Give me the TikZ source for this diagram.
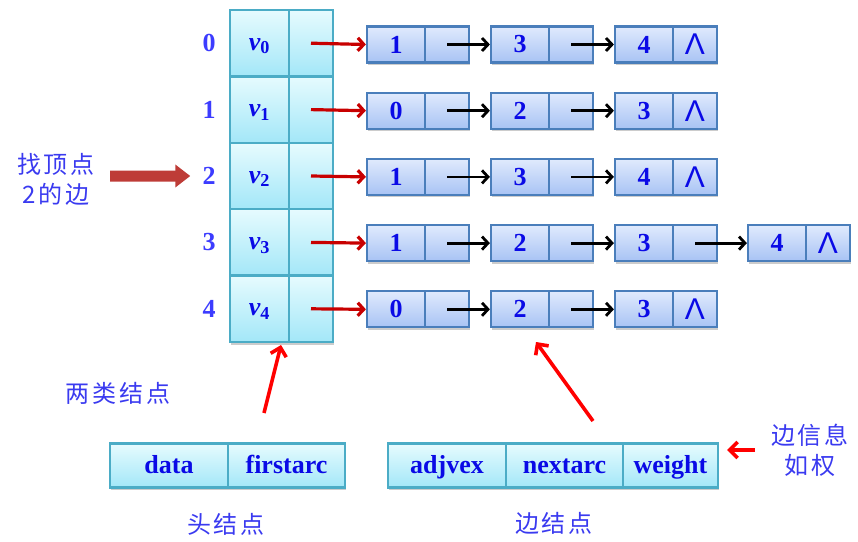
\documentclass[tikz,border=0pt]{standalone}
\usepackage{fontspec}
\setmainfont{Liberation Serif}
\setsansfont{Liberation Sans}
\newfontfamily\cjk{Noto Sans CJK SC}[LetterSpace=12]
\usetikzlibrary{arrows.meta,shadows}

\definecolor{headline}{RGB}{75,172,198}
\definecolor{headtop}{RGB}{230,251,254}
\definecolor{headbot}{RGB}{163,231,248}
\definecolor{edgeline}{RGB}{74,126,187}
\definecolor{edgetop}{RGB}{224,234,253}
\definecolor{edgebot}{RGB}{168,195,244}
\definecolor{boxtext}{RGB}{10,10,230}
\definecolor{idxblue}{RGB}{60,60,255}
\definecolor{cjkblue}{RGB}{58,58,240}
\definecolor{ptrred}{RGB}{200,0,0}
\definecolor{fatred}{RGB}{190,60,55}

\tikzset{
hcell/.style={draw=headline, line width=2.4pt, top color=headtop, bottom color=headbot,
  minimum height=66.4, inner sep=0, text=boxtext,
  font=\bfseries\fontsize{26}{30}\selectfont,
  general shadow={fill=black!20, shadow xshift=1pt, shadow yshift=-2.5pt}},
field/.style={hcell, minimum height=44, text height=18pt, text depth=3pt},
ecell/.style={draw=edgeline, line width=2.2pt, top color=edgetop, bottom color=edgebot,
  minimum height=36, inner sep=0, text=boxtext,
  font=\bfseries\fontsize{26}{30}\selectfont,
  general shadow={fill=black!20, shadow xshift=1pt, shadow yshift=-2.5pt}},
idx/.style={inner sep=2pt, text=idxblue, font=\bfseries\fontsize{26}{30}\selectfont},
nil/.style={inner sep=0, text=boxtext, font=\sffamily\fontsize{30}{32}\selectfont},
note/.style={inner sep=0, text=cjkblue, font=\cjk\fontsize{24}{30}\selectfont},
headarrow/.style={draw=ptrred, line width=3.2pt, -{Straight Barb[length=6pt,width=13pt]}},
nextarrow/.style={draw=black, line width=2.8pt, -{Straight Barb[length=6pt,width=13pt]}},
pointarrow/.style={draw=red, line width=3.6pt, -{Straight Barb[length=8pt,width=16pt]}},
fatarrow/.style={draw=fatred, line width=11pt, -{Triangle[length=15pt,width=22pt]}}
}

\begin{document}
\begin{tikzpicture}[x=1pt,y=1pt,yscale=-1,xscale=1]
    \useasboundingbox (0,0) rectangle (858,541);

    % head array, one row for each vertex
    \foreach \i in {0,...,4}{
        \pgfmathsetmacro\hy{43.2+66.4*\i}
        \node[idx] (i\i) at (209,\hy) {\i};
        \node[hcell, minimum width=59, text height=17pt, text depth=3pt] (d\i) at (259.5,\hy) {{\itshape v}\textsubscript{\i}};
        \node[hcell, minimum width=44] (p\i) at (311,\hy) {};
    }

    % edge lists
    \def\boxx{{367,491,615,748}}
    \foreach \vals [count=\j from 0] in {{1,3,4},{0,2,3},{1,3,4},{1,2,3,4},{0,2,3}}{
        \pgfmathsetmacro\ey{44.5+66.2*\j}
        \foreach \v [count=\k] in \vals{
            \pgfmathsetmacro\bx{\boxx[\k-1]}
            \node[ecell, minimum width=58] (v\j\k) at (\bx+29,\ey) {\v};
            \node[ecell, minimum width=44] (n\j\k) at (\bx+80,\ey) {};
            \ifnum\k>1
                \pgfmathtruncatemacro\prev{\k-1}
                \draw[nextarrow] (n\j\prev.center) -- (v\j\k.west);
            \fi
        }
        \draw[headarrow] (p\j.center) -- (v\j1.west);
    }

    % empty pointers at the end of each list
    \foreach \j/\n in {0/3,1/3,2/3,3/4,4/3}{
        \node[nil] (nil\j) at (n\j\n) {Λ};
    }

    % the two kinds of nodes
    \node[field, minimum width=118] (data) at (169,465.5) {data};
    \node[field, minimum width=117] (firstarc) at (286.5,465.5) {firstarc};
    \node[field, minimum width=118] (adjvex) at (447,465.5) {adjvex};
    \node[field, minimum width=117] (nextarc) at (564.5,465.5) {nextarc};
    \node[field, minimum width=95] (weight) at (670.5,465.5) {weight};

    \node[note] (kinds) at (118,393) {两类结点};
    \node[note] (headname) at (226,524) {头结点};
    \node[note] (edgename) at (554,523) {边结点};
    \node[note, align=center] (info) at (810,450) {边信息\\如权};
    \node[note, align=center] (find) at (56,179) {找顶点\\2的边};

    \coordinate (fatfrom) at (110,176);
    \draw[fatarrow, shorten >=10pt] (fatfrom) -- (i2.west);

    \coordinate (hfrom) at (264,413);
    \coordinate (hto) at (281,345);
    \draw[pointarrow] (hfrom) -- (hto);
    \coordinate (efrom) at (593,421);
    \coordinate (eto) at (536,342);
    \draw[pointarrow] (efrom) -- (eto);
    \coordinate (wfrom) at (755,450);
    \coordinate (wto) at (727,450);
    \draw[pointarrow] (wfrom) -- (wto);

\end{tikzpicture}
\end{document}
